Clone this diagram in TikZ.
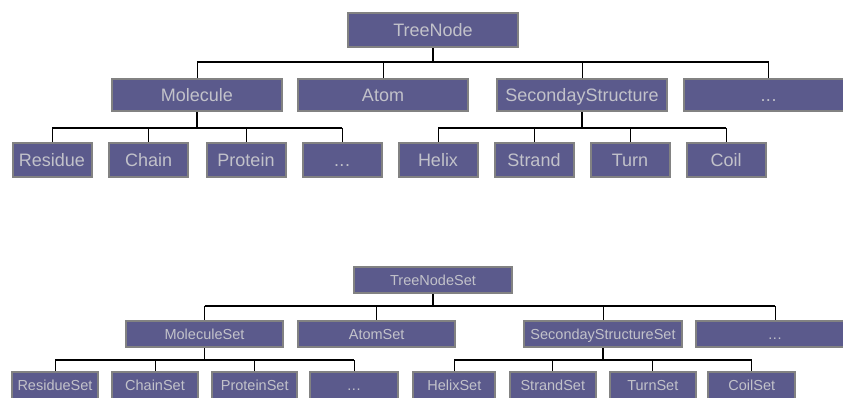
\documentclass[tikz,border=0pt]{standalone}
\usepackage{fontspec}
\setmainfont{Liberation Sans}
\definecolor{boxfill}{HTML}{5B5A8C}
\definecolor{boxline}{HTML}{828282}
\definecolor{boxtext}{HTML}{C2C2CA}
\begin{document}
\begin{tikzpicture}[x=1pt,y=-1pt,
  box/.style={draw=boxline,line width=2pt,fill=boxfill,text=boxtext,inner sep=0pt,anchor=center,text depth=0pt},
  big/.style={box,font=\fontsize{18}{20}\selectfont,text height=12.9pt},
  small/.style={box,font=\fontsize{14.5}{16}\selectfont,text height=10.4pt},
  widebig/.style={big,minimum width=169.5pt,minimum height=32.6pt},
  leafbig/.style={big,minimum width=79pt,minimum height=34.6pt},
  widesmall/.style={small,minimum width=157.4pt,minimum height=26.6pt},
  leafsmall/.style={small,minimum width=85.5pt,minimum height=26.6pt},
  stem/.style={line width=1.6pt},
  bar/.style={line width=1.3pt},
  twig/.style={line width=0.9pt}]
\useasboundingbox (0,0) rectangle (843,398);
\clip (0,0) rectangle (843,398);
\fill[white] (0,0) rectangle (843,398);

% ---------- element classes ----------
\node[big,minimum width=170pt,minimum height=34.6pt] (tn) at (433,30) {TreeNode};
\node[widebig] (mol) at (197,95) {Molecule};
\node[widebig] (atom) at (383,95) {Atom};
\node[widebig] (ss) at (582,95) {SecondayStructure};
\node[widebig] (etcA) at (768.5,95) {.\kern0.5pt.\kern0.5pt.};

\node[leafbig] (res) at (52,160) {Residue};
\node[leafbig] (chain) at (148.7,160) {Chain};
\node[leafbig] (prot) at (246,160) {Protein};
\node[leafbig] (etcB) at (342,160) {.\kern0.5pt.\kern0.5pt.};
\node[leafbig] (helix) at (438,160) {Helix};
\node[leafbig] (strand) at (534,160) {Strand};
\node[leafbig] (turn) at (630,160) {Turn};
\node[leafbig] (coil) at (726,160) {Coil};

\coordinate (busA) at (0,62);
\coordinate (busB) at (0,128);

\draw[stem] (tn.south) -- (tn.south |- busA);
\draw[bar] (mol.north |- busA) -- (etcA.north |- busA);
\foreach \n in {mol,atom,ss,etcA}
  \draw[twig] (\n.north |- busA) -- (\n.north);

\draw[stem] (mol.south) -- (mol.south |- busB);
\draw[bar] (res.north |- busB) -- (etcB.north |- busB);
\foreach \n in {res,chain,prot,etcB}
  \draw[twig] (\n.north |- busB) -- (\n.north);

\draw[stem] (ss.south) -- (ss.south |- busB);
\draw[bar] (helix.north |- busB) -- (coil.north |- busB);
\foreach \n in {helix,strand,turn,coil}
  \draw[twig] (\n.north |- busB) -- (\n.north);

% ---------- set classes ----------
\node[widesmall] (tns) at (433,280) {TreeNodeSet};
\node[widesmall] (mols) at (204.5,334) {MoleculeSet};
\node[widesmall] (atoms) at (376.7,334) {AtomSet};
\node[widesmall] (sss) at (603,334) {SecondayStructureSet};
\node[widesmall] (etcC) at (775,334) {.\kern0.5pt.\kern0.5pt.};

\node[leafsmall] (ress) at (55,385.6) {ResidueSet};
\node[leafsmall] (chains) at (155,385.6) {ChainSet};
\node[leafsmall] (prots) at (254.7,385.6) {ProteinSet};
\node[leafsmall,minimum width=87.4pt] (etcD) at (354,385.6) {.\kern0.5pt.\kern0.5pt.};
\node[leafsmall,minimum width=82pt] (helixs) at (454.3,385.6) {HelixSet};
\node[leafsmall] (strands) at (552.8,385.6) {StrandSet};
\node[leafsmall] (turns) at (652.8,385.6) {TurnSet};
\node[leafsmall,minimum width=87pt] (coils) at (751.8,385.6) {CoilSet};

\coordinate (busC) at (0,306);
\coordinate (busD) at (0,360);

\draw[stem] (tns.south) -- (tns.south |- busC);
\draw[bar] (mols.north |- busC) -- (etcC.north |- busC);
\foreach \n in {mols,atoms,sss,etcC}
  \draw[twig] (\n.north |- busC) -- (\n.north);

\draw[stem] (mols.south) -- (mols.south |- busD);
\draw[bar] (ress.north |- busD) -- (etcD.north |- busD);
\foreach \n in {ress,chains,prots,etcD}
  \draw[twig] (\n.north |- busD) -- (\n.north);

\draw[stem] (sss.south) -- (sss.south |- busD);
\draw[bar] (helixs.north |- busD) -- (coils.north |- busD);
\foreach \n in {helixs,strands,turns,coils}
  \draw[twig] (\n.north |- busD) -- (\n.north);
\end{tikzpicture}
\end{document}
